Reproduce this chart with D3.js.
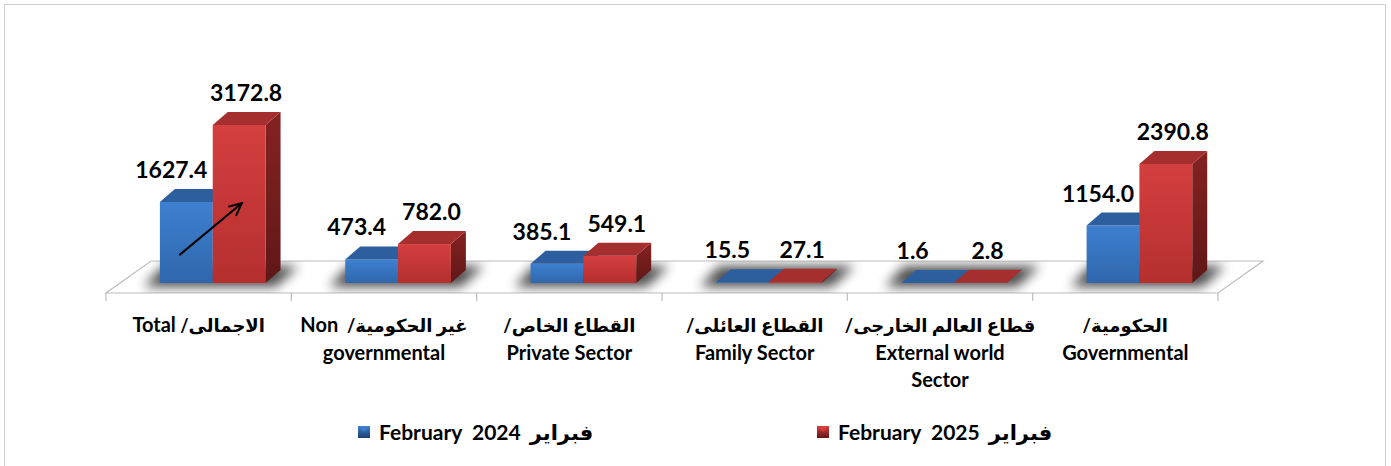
<!DOCTYPE html>
<html>
<head>
<meta charset="utf-8">
<script src="https://cdn.jsdelivr.net/npm/d3@7"></script>
<style>
  html, body { margin: 0; padding: 0; background: #ffffff; }
  svg { display: block; }
  text { font-family: Lato, "DejaVu Sans", sans-serif; font-weight: 700; fill: #000; }
</style>
</head>
<body>
<svg id="chart" width="1391" height="466"></svg>
<script>
// Deposits by sector, February 2024 vs February 2025
const categories = ["Total", "Non governmental", "Private Sector", "Family Sector", "External world Sector", "Governmental"];
const categoryLines = [
  ["الاجمالى/ Total"],
  ["غير الحكومية/  Non", "governmental"],
  ["القطاع الخاص/", "Private Sector"],
  ["القطاع العائلى/", "Family Sector"],
  ["قطاع العالم الخارجى/", "External world", "Sector"],
  ["الحكومية/", "Governmental"]
];
const seriesNames = ["February  2024", "February  2025"];
const seriesArabic = ["فبراير", "فبراير"];
const feb2024 = [1627.4, 473.4, 385.1, 15.5, 1.6, 1154.0];
const feb2025 = [3172.8, 782.0, 549.1, 27.1, 2.8, 2390.8];
const seriesValues = [feb2024, feb2025];

const svg = d3.select("#chart");
const defs = svg.append("defs");

// outer frame
svg.append("rect").attr("x", 4.5).attr("y", 4.5).attr("width", 1381).attr("height", 480)
  .attr("fill", "#fff").attr("stroke", "#d0d0d0");

// floor geometry (oblique 3D)
const floorFront = 293, floorDepthX = 45, floorDepthY = 32;
const x = d3.scaleBand().domain(categories).range([106, 1218]).paddingInner(0).paddingOuter(0);
const barInset = 10;                                   // bars stand this far behind the floor front edge
const baseY = floorFront - barInset;
const insetShift = barInset * floorDepthX / floorDepthY;
const y = d3.scaleLinear().domain([0, 3500]).range([baseY, baseY - 174.3]);
const barW = x.bandwidth() * 0.285;
const depthX = 15, depthY = 13;

// palettes: front gradient, top, side
const palettes = [
  { front: ["#3e80d0", "#2f67ad"], top: "#2d5e9e", side: ["#26508a", "#1d3f6e"] },
  { front: ["#d43f3f", "#b52f2f"], top: "#a52e2e", side: ["#852222", "#601717"] }
];
palettes.forEach((p, i) => {
  const g1 = defs.append("linearGradient").attr("id", "front" + i).attr("x1", 0).attr("y1", 0).attr("x2", 0).attr("y2", 1);
  g1.append("stop").attr("offset", "0%").attr("stop-color", p.front[0]);
  g1.append("stop").attr("offset", "100%").attr("stop-color", p.front[1]);
  const g2 = defs.append("linearGradient").attr("id", "side" + i).attr("x1", 0).attr("y1", 0).attr("x2", 0).attr("y2", 1);
  g2.append("stop").attr("offset", "0%").attr("stop-color", p.side[0]);
  g2.append("stop").attr("offset", "100%").attr("stop-color", p.side[1]);
  const g3 = defs.append("linearGradient").attr("id", "legend" + i).attr("x1", 0).attr("y1", 0).attr("x2", 0).attr("y2", 1);
  g3.append("stop").attr("offset", "0%").attr("stop-color", p.front[0]);
  g3.append("stop").attr("offset", "100%").attr("stop-color", p.side[1]);
});

const blur = defs.append("filter").attr("id", "shadowBlur").attr("x", "-50%").attr("y", "-100%").attr("width", "200%").attr("height", "300%");
blur.append("feGaussianBlur").attr("stdDeviation", 6);

// floor
const x0 = x.range()[0], x1 = x.range()[1];
const floorPts = [[x0, floorFront], [x1, floorFront], [x1 + floorDepthX, floorFront - floorDepthY], [x0 + floorDepthX, floorFront - floorDepthY]];
defs.append("clipPath").attr("id", "floorClip").append("polygon").attr("points", floorPts.map(p => p.join(",")).join(" "));
svg.append("polygon").attr("points", floorPts.map(p => p.join(",")).join(" "))
  .attr("fill", "#ffffff").attr("stroke", "#bdbdbd").attr("stroke-width", 1.2);

// category ticks below the floor front edge
const tickXs = categories.map(c => x(c)).concat([x1]);
svg.append("g").selectAll("line").data(tickXs).join("line")
  .attr("x1", d => d).attr("x2", d => d).attr("y1", floorFront).attr("y2", floorFront + 8)
  .attr("stroke", "#bdbdbd").attr("stroke-width", 1.2);

// soft shadows under each pair of bars
const shadowG = svg.append("g").attr("clip-path", "url(#floorClip)");
categories.forEach(c => {
  const left = x(c) + x.bandwidth() / 2 + insetShift - barW;
  const right = left + 2 * barW;
  const pts = [[left - 16, baseY + 4], [right + 10, baseY + 4], [right + depthX + 18, baseY - depthY - 4], [left + depthX - 12, baseY - depthY - 4]];
  shadowG.append("polygon").attr("points", pts.map(p => p.join(",")).join(" "))
    .attr("fill", "#000").attr("opacity", 0.7).attr("filter", "url(#shadowBlur)");
});

// bars: blue then red in each category
const barsG = svg.append("g");
categories.forEach((c, ci) => {
  seriesValues.forEach((vals, si) => {
    const v = vals[ci];
    const bx = x(c) + x.bandwidth() / 2 + insetShift - barW + si * barW;
    const top = y(v), bot = y(0);
    const g = barsG.append("g");
    g.append("polygon")
      .attr("points", [[bx + barW, top], [bx + barW + depthX, top - depthY], [bx + barW + depthX, bot - depthY], [bx + barW, bot]].map(p => p.join(",")).join(" "))
      .attr("fill", `url(#side${si})`);
    g.append("rect").attr("x", bx).attr("y", top).attr("width", barW).attr("height", Math.max(0, bot - top))
      .attr("fill", `url(#front${si})`);
    g.append("polygon")
      .attr("points", [[bx, top], [bx + depthX, top - depthY], [bx + barW + depthX, top - depthY], [bx + barW, top]].map(p => p.join(",")).join(" "))
      .attr("fill", palettes[si].top);
  });
});

// value labels
const labelShift = [-15, 7];
const labelsG = svg.append("g");
categories.forEach((c, ci) => {
  seriesValues.forEach((vals, si) => {
    const v = vals[ci];
    const cx = x(c) + x.bandwidth() / 2 + insetShift - barW + si * barW + barW / 2 + labelShift[si];
    labelsG.append("text").attr("x", cx).attr("y", y(v) - depthY - 11)
      .attr("text-anchor", "middle").attr("font-size", 23)
      .text(d3.format(".1f")(v));
  });
});

// category labels (Arabic / English, right-to-left); Arabic runs set a little smaller
const arabicRun = /([\u0600-\u06FF][\u0600-\u06FF\s\/]*)/;
const catG = svg.append("g");
categories.forEach((c, ci) => {
  categoryLines[ci].forEach((line, li) => {
    const t = catG.append("text").attr("text-anchor", "middle").attr("direction", "rtl")
      .attr("x", x(c) + x.bandwidth() / 2).attr("y", 332 + li * 27.5)
      .attr("font-size", 20).style("white-space", "pre");
    line.split(arabicRun).filter(s => s.length).forEach(part => {
      t.append("tspan").attr("font-size", arabicRun.test(part) ? 18 : 20).text(part);
    });
  });
});

// growth arrow across the Total bars
const totalLeft = x(categories[0]) + x.bandwidth() / 2 + insetShift - barW;
const ax1 = totalLeft + 20, ay1 = y(570), ax2 = totalLeft + barW + 29, ay2 = y(1600);
const ang = Math.atan2(ay2 - ay1, ax2 - ax1), headLen = 13, headAng = Math.PI / 7;
const arrow = svg.append("g").attr("stroke", "#000").attr("stroke-width", 2).attr("fill", "none").attr("stroke-linecap", "round");
arrow.append("line").attr("x1", ax1).attr("y1", ay1).attr("x2", ax2).attr("y2", ay2);
arrow.append("path").attr("d", d3.line()([
  [ax2 - headLen * Math.cos(ang - headAng), ay2 - headLen * Math.sin(ang - headAng)],
  [ax2, ay2],
  [ax2 - headLen * Math.cos(ang + headAng), ay2 - headLen * Math.sin(ang + headAng)]
]));

// legend
const legendX = [358, 817];
const legendG = svg.append("g");
seriesNames.forEach((name, si) => {
  const lx = legendX[si];
  legendG.append("rect").attr("x", lx).attr("y", 426).attr("width", 12).attr("height", 12)
    .attr("fill", `url(#legend${si})`);
  legendG.append("polygon")
    .attr("points", [[lx, 426], [lx + 12, 426], [lx + 6, 432]].map(p => p.join(",")).join(" "))
    .attr("fill", palettes[si].front[0]).attr("opacity", 0.8);
  const t = legendG.append("text").attr("x", lx + 21).attr("y", 440).attr("font-size", 21)
    .style("white-space", "pre").text(name);
  const w = t.node().getComputedTextLength();
  legendG.append("text").attr("x", lx + 21 + w + 9).attr("y", 440).attr("font-size", 21)
    .attr("direction", "rtl").attr("text-anchor", "end").text(seriesArabic[si]);
});
</script>
</body>
</html>
